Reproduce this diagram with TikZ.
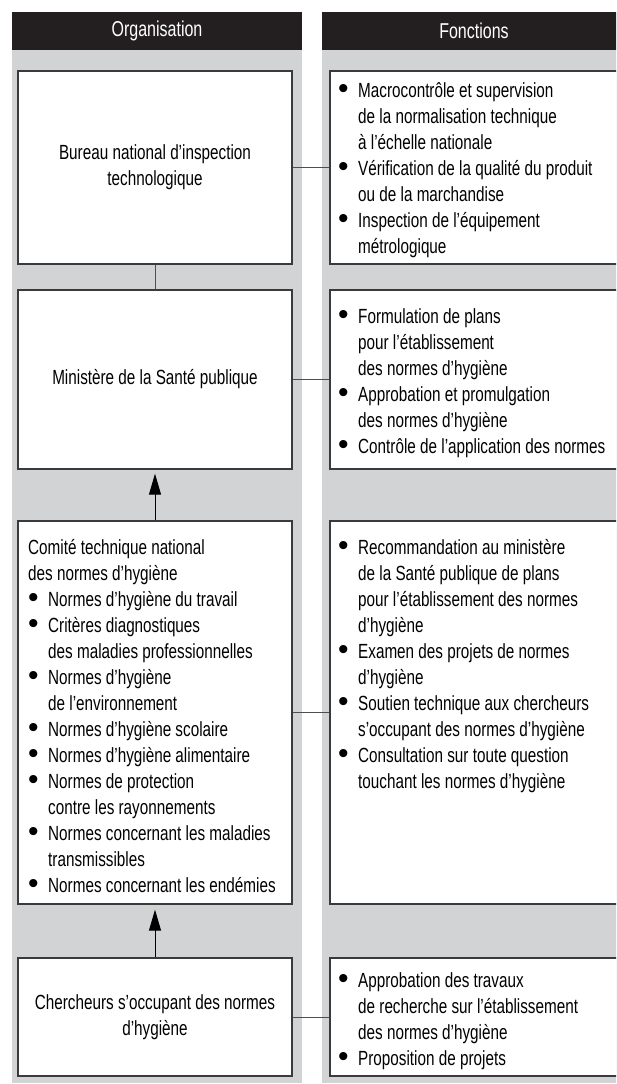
\documentclass[tikz,border=0pt]{standalone}
\usepackage{fontspec}
\setmainfont{Liberation Sans}[FakeStretch=0.745]
\newfontfamily\bulfont{Liberation Sans}
\usetikzlibrary{arrows.meta}

\definecolor{hdr}{HTML}{231F20}
\definecolor{pnl}{HTML}{D1D3D4}
\definecolor{frm}{HTML}{3A3A3A}

\newcommand{\bodyfont}{\fontsize{20.5}{26}\selectfont}
\newcommand{\bul}{\makebox[20pt][l]{\smash{\raisebox{-1.5pt}{\bulfont\fontsize{30}{26}\selectfont\textbullet}}}}
\newcommand{\ind}{\hspace*{20pt}}

\begin{document}
\begin{tikzpicture}[x=1pt,y=-1pt,
  hd/.style={fill=hdr,text=white,inner sep=0pt,minimum height=38pt,font=\fontsize{21.5}{26}\selectfont},
  box/.style={draw=frm,line width=1.3pt,fill=white,inner sep=0pt,align=center,font=\bodyfont},
  txt/.style={anchor=base west,inner sep=0pt,align=left,font=\bodyfont},
  cn/.style={draw=frm!90,line width=1pt},
  ar/.style={draw=black,line width=1pt,-{Triangle[length=21pt,width=12pt]}}]
 \useasboundingbox (0,0) rectangle (616,1084);
 \clip (0,0) rectangle (616,1084);
 \fill[pnl] (12,50) rectangle (302,1083);
 \fill[pnl] (322,50) rectangle (626,1083);
 \node[hd,minimum width=290pt] (ho) at (157,31) {Organisation};
 \node[hd,minimum width=304pt] (hf) at (474,31) {Fonctions};

 \node[box,minimum width=274pt,minimum height=193pt] (b1) at (155,167.5) {Bureau national d’inspection\\technologique};
 \node[box,minimum width=274pt,minimum height=179pt] (b2) at (155,379.5) {Ministère de la Santé publique};
 \node[box,minimum width=274pt,minimum height=383pt] (b3) at (155,712.5) {};
 \node[box,minimum width=274pt,minimum height=118pt] (b4) at (155,1017) {Chercheurs s’occupant des normes\\d’hygiène};

 \node[box,minimum width=290pt,minimum height=193pt] (r1) at (475,167.5) {};
 \node[box,minimum width=290pt,minimum height=179pt] (r2) at (475,379.5) {};
 \node[box,minimum width=290pt,minimum height=383pt] (r3) at (475,712.5) {};
 \node[box,minimum width=290pt,minimum height=118pt] (r4) at (475,1017) {};

 \draw[cn] (b1.south) -- (b2.north);
 \draw[ar,shorten >=4pt] (b3.north) -- (b2.south);
 \draw[ar,shorten >=5pt] (b4.north) -- (b3.south);
 \draw[cn] (b1.east) -- (r1.west);
 \draw[cn] (b2.east) -- (r2.west);
 \draw[cn] (b3.east) -- (r3.west);
 \draw[cn] (b4.east) -- (r4.west);

 \node[txt] (t3) at (28,892) {Comité technique national\\
  des normes d’hygiène\\
  \bul Normes d’hygiène du travail\\
  \bul Critères diagnostiques\\
  \ind des maladies professionnelles\\
  \bul Normes d’hygiène\\
  \ind de l’environnement\\
  \bul Normes d’hygiène scolaire\\
  \bul Normes d’hygiène alimentaire\\
  \bul Normes de protection\\
  \ind contre les rayonnements\\
  \bul Normes concernant les maladies\\
  \ind transmissibles\\
  \bul Normes concernant les endémies};

 \node[txt] (f1) at (338,253) {\bul Macrocontrôle et supervision\\
  \ind de la normalisation technique\\
  \ind à l’échelle nationale\\
  \bul Vérification de la qualité du produit\\
  \ind ou de la marchandise\\
  \bul Inspection de l’équipement\\
  \ind métrologique};
 \node[txt] (f2) at (338,453) {\bul Formulation de plans\\
  \ind pour l’établissement\\
  \ind des normes d’hygiène\\
  \bul Approbation et promulgation\\
  \ind des normes d’hygiène\\
  \bul Contrôle de l’application des normes};
 \node[txt] (f3) at (338,788) {\bul Recommandation au ministère\\
  \ind de la Santé publique de plans\\
  \ind pour l’établissement des normes\\
  \ind d’hygiène\\
  \bul Examen des projets de normes\\
  \ind d’hygiène\\
  \bul Soutien technique aux chercheurs\\
  \ind s’occupant des normes d’hygiène\\
  \bul Consultation sur toute question\\
  \ind touchant les normes d’hygiène};
 \node[txt] (f4) at (338,1065) {\bul Approbation des travaux\\
  \ind de recherche sur l’établissement\\
  \ind des normes d’hygiène\\
  \bul Proposition de projets};
\end{tikzpicture}
\end{document}
